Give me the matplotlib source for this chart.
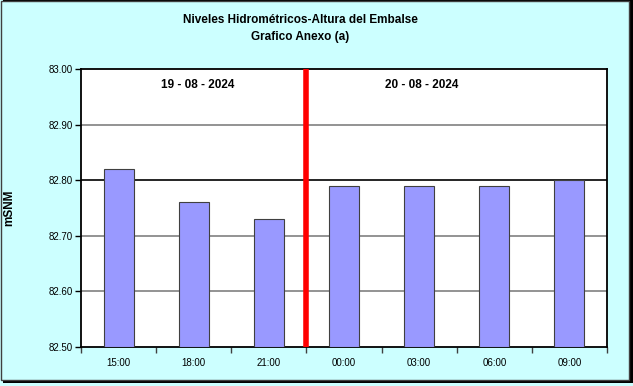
import matplotlib
matplotlib.use("Agg")
import matplotlib.pyplot as plt
import numpy as np
from matplotlib.patches import Rectangle

horas = ["15:00", "18:00", "21:00", "00:00", "03:00", "06:00", "09:00"]
alturas = [82.82, 82.76, 82.73, 82.79, 82.79, 82.79, 82.80]
fechas = ["19 - 08 - 2024", "20 - 08 - 2024"]
yticks = [82.50, 82.60, 82.70, 82.80, 82.90, 83.00]

plt.rcParams['font.family'] = ['Liberation Sans', 'DejaVu Sans']

fig = plt.figure(figsize=(6.33, 3.86), dpi=100)
fig.patch.set_facecolor('#CCFFFF')
W, H = 633, 386

# marco de la figura con sombra
fig.patches.append(Rectangle((3 / W, 3 / H), 1 - 3 / W, 1 - 3 / H, transform=fig.transFigure,
                             facecolor='black', edgecolor='none', zorder=-2))
fig.patches.append(Rectangle((0.5 / W, 6 / H), 1 - 4.5 / W, 1 - 6.5 / H, transform=fig.transFigure,
                             facecolor='#CCFFFF', edgecolor='#404040', lw=1, zorder=-1))

ax = fig.add_axes([81 / W, 1 - 347 / H, 526 / W, 278 / H])
ax.set_facecolor('white')

x = np.arange(len(horas))
ax.bar(x, np.array(alturas) - 82.5, bottom=82.5, width=0.4, color='#9999FF',
       edgecolor='#404040', linewidth=0.8, zorder=3)

ax.set_xlim(-0.5, len(horas) - 0.5)
ax.set_ylim(82.5, 83.0)
ax.set_yticks(yticks)
ax.set_yticklabels(["%.2f" % v for v in yticks], fontsize=7)
for v in yticks[1:-1]:
    ax.axhline(v, color='black' if abs(v - 82.8) < 1e-6 else '#808080', lw=1.2, zorder=1)

ax.set_xticks(x)
ax.set_xticklabels(horas, fontsize=7)
ax.set_xticks(np.arange(len(horas) + 1) - 0.5, minor=True)
ax.tick_params(axis='x', which='major', length=0, pad=8)
ax.tick_params(axis='x', which='minor', length=4, width=1, color='#404040')
ax.tick_params(axis='y', length=4, width=1, pad=2)

for s in ax.spines.values():
    s.set_linewidth(1.3)
    s.set_color('black')

# separación entre días
ax.axvline(2.5, color='red', lw=4, zorder=4)
ax.text(1.05, 82.972, fechas[0], ha='center', va='center', fontsize=8.5, fontweight='bold')
ax.text(4.03, 82.972, fechas[1], ha='center', va='center', fontsize=8.5, fontweight='bold')

ax.set_ylabel("mSNM", fontsize=8.5, fontweight='bold', labelpad=24)

fig.text(300 / W, 1 - 20 / H, "Niveles Hidrométricos-Altura del Embalse", ha='center', va='center',
         fontsize=8.5, fontweight='bold')
fig.text(300 / W, 1 - 37 / H, "Grafico Anexo (a)", ha='center', va='center',
         fontsize=8.5, fontweight='bold')

fig.savefig("out.png", dpi=100, facecolor=fig.get_facecolor())
